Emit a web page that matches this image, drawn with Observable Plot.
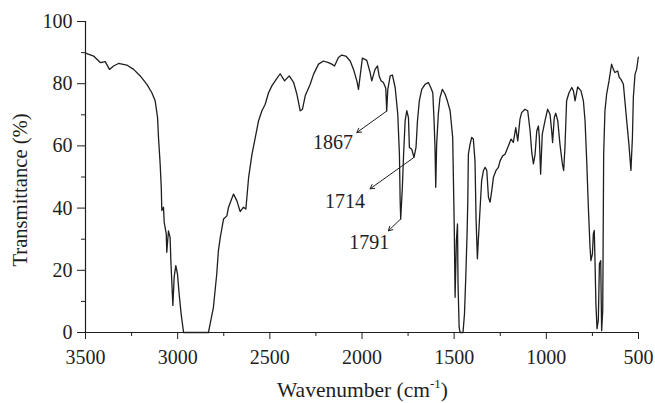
<!DOCTYPE html>
<html><head><meta charset="utf-8">
<script src="https://cdn.jsdelivr.net/npm/d3@7"></script>
<script src="https://cdn.jsdelivr.net/npm/@observablehq/plot@0.6"></script>
<style>html,body{margin:0;padding:0;background:#fff} #chart svg{display:block}</style>
</head><body><div id="chart"></div>
<script>
const wavenumber = [3500,3456,3420,3393,3370,3348,3321,3276,3239,3203,3167,3140,3122,3109,3104,3095,3089,3086,3077,3073,3062,3059,3050,3041,3037,3026,3019,3010,3001,2992,2981,2968,2833,2824,2806,2788,2779,2769,2751,2733,2724,2697,2679,2661,2643,2630,2615,2597,2579,2561,2543,2525,2507,2489,2471,2444,2420,2395,2371,2353,2335,2323,2308,2281,2263,2236,2209,2182,2164,2149,2128,2110,2088,2064,2046,2028,2019,2010,1998,1974,1956,1947,1929,1916,1907,1896,1884,1871,1866,1860,1847,1835,1820,1806,1797,1793,1790,1781,1775,1766,1757,1748,1743,1730,1718,1707,1699,1689,1676,1658,1640,1627,1616,1609,1604,1600,1595,1586,1577,1564,1549,1537,1522,1508,1502,1499,1495,1488,1482,1479,1473,1468,1452,1444,1437,1430,1426,1423,1414,1405,1396,1387,1381,1374,1369,1363,1351,1341,1332,1323,1314,1305,1296,1287,1273,1260,1251,1237,1224,1206,1191,1179,1166,1155,1143,1134,1116,1101,1088,1079,1070,1061,1052,1043,1038,1031,1022,1007,993,980,971,966,957,949,938,926,913,906,899,890,877,862,853,844,830,812,799,790,781,772,763,758,750,745,740,736,731,725,718,712,705,700,694,689,682,673,660,646,637,628,613,604,595,582,564,552,541,533,528,519,510,501];
const transmittance = [89.8,88.9,86.8,87.1,84.6,85.7,86.5,86.0,84.6,82.5,79.8,77.1,74.5,69.1,62.7,54.2,46.7,39.2,40.3,35.4,31.7,25.8,32.7,30.5,23.1,8.7,17.8,21.5,18.8,12.4,5.9,0,0,2.7,8.1,18.8,26.3,30.5,36.5,37.5,40.3,44.5,42.4,38.9,40.3,39.7,49.9,57.3,62.7,68.1,71.3,73.4,77.1,79.3,80.9,83.2,80.9,82.5,80.4,76.6,71.3,71.8,76.1,79.8,83.0,86.3,87.3,86.8,86.3,85.7,88.4,89.2,88.9,87.3,84.6,80.9,78.2,82.5,88.2,87.5,83.6,80.9,84.6,85.7,82.5,80.9,80.4,78.5,71.2,78.2,82.5,82.8,78.7,70.2,57.3,42.4,36.5,46.7,56.3,68.1,71.3,69.1,59.5,58.9,56.3,59.5,68.1,74.5,78.2,79.8,80.4,78.8,77.1,68.1,59.5,46.7,60.5,70.2,75.5,78.2,76.6,74.5,71.3,62.7,42.4,31.7,11.3,29.5,34.9,15.6,1.7,0,0,6.0,17.8,31.7,42.4,57.3,60.5,62.7,62.2,55.2,36.0,23.7,29.6,36.0,48.8,52.1,53.1,52.1,43.5,41.9,45.6,49.9,52.1,53.1,55.2,56.8,57.3,60.0,62.2,61.1,65.9,61.6,68.6,70.7,71.8,71.3,64.8,57.9,54.2,57.3,64.8,66.4,62.7,50.9,63.8,68.1,71.8,70.2,64.8,61.1,69.1,70.5,68.1,60.5,54.2,52.1,59.5,74.5,77.1,78.8,77.7,74.5,79.0,77.7,74.5,68.1,55.2,40.3,27.4,23.1,25.3,31.7,32.8,23.1,9.2,1.2,3.9,22.1,23.1,0.6,7.1,57.3,71.3,76.6,80.9,86.3,84.7,83.6,84.1,82.0,81.4,79.8,68.1,60.5,52.1,62.7,75.5,83.0,84.7,88.5];

const xTicks = [3500, 3000, 2500, 2000, 1500, 1000, 500];
const xMinorTicks = [3250, 2750, 2250, 1750, 1250, 750];
const yTicks = [0, 20, 40, 60, 80, 100];
const yMinorTicks = [10, 30, 50, 70, 90];

const peakLabels = ["1867", "1714", "1791"];
const peakX = [1866, 1718, 1790];
const peakY = [71.2, 56.3, 36.5];
const arrowEndX = [2028, 1956, 1857];
const arrowEndY = [64.3, 46.2, 32.7];
const labelX = [2157, 2092, 1961];
const labelY = [59.1, 40.1, 27.0];

const yTitle = "Transmittance (%)";
const xTitleMain = "Wavenumber (cm";
const xTitleSup = "-1";
const xTitleEnd = ")";

const spectrum = wavenumber.map((w, i) => ({w, t: transmittance[i]}));
const notes = peakLabels.map((label, i) => ({label, px: peakX[i], py: peakY[i], ax: arrowEndX[i], ay: arrowEndY[i], lx: labelX[i], ly: labelY[i]}));

const ink = "#1e1e1e";
const plot = Plot.plot({
  width: 655, height: 403,
  marginLeft: 85, marginRight: 17, marginTop: 21, marginBottom: 71,
  x: {domain: [3500, 500]},
  y: {domain: [0, 100]},
  style: {fontFamily: "'Liberation Serif', 'Times New Roman', serif", fontSize: "20px", color: ink, background: "#fff"},
  marks: [
    Plot.axisX({ticks: xTicks, tickSize: 7, tickPadding: 10, tickFormat: d => String(d), label: null, fontSize: 20, stroke: ink}),
    Plot.axisX({ticks: xMinorTicks, tickSize: 4, tickFormat: () => "", label: null, stroke: ink}),
    Plot.axisY({ticks: yTicks, tickSize: 8, tickPadding: 5, tickFormat: d => String(d), label: null, fontSize: 20, stroke: ink}),
    Plot.axisY({ticks: yMinorTicks, tickSize: 4, tickFormat: () => "", label: null, stroke: ink}),
    Plot.ruleY([0], {stroke: ink, strokeWidth: 1.2}),
    Plot.ruleX([3500], {stroke: ink, strokeWidth: 1.2}),
    Plot.line(spectrum, {x: "w", y: "t", stroke: ink, strokeWidth: 1.3}),
    Plot.arrow(notes, {x1: "px", y1: "py", x2: "ax", y2: "ay", stroke: ink, strokeWidth: 1, headLength: 7, bend: false}),
    Plot.text(notes, {x: "lx", y: "ly", text: "label", lineAnchor: "bottom", fontSize: 20, fill: ink})
  ]
});

const svg = d3.select(plot);
const xs = plot.scale("x").range;
const cx = (xs[0] + xs[1]) / 2;
svg.append("text")
  .attr("transform", `translate(20,190) rotate(-90)`)
  .attr("text-anchor", "middle").attr("dy", "0.35em")
  .attr("fill", ink).attr("font-size", 20.6)
  .text(yTitle);
const xt = svg.append("text")
  .attr("x", cx + 1).attr("y", 397)
  .attr("text-anchor", "middle")
  .attr("fill", ink).attr("font-size", 21.5);
xt.append("tspan").text(xTitleMain);
xt.append("tspan").attr("font-size", 13).attr("dy", -9).text(xTitleSup);
xt.append("tspan").attr("dy", 9).text(xTitleEnd);

document.getElementById("chart").append(plot);
</script>
</body></html>
